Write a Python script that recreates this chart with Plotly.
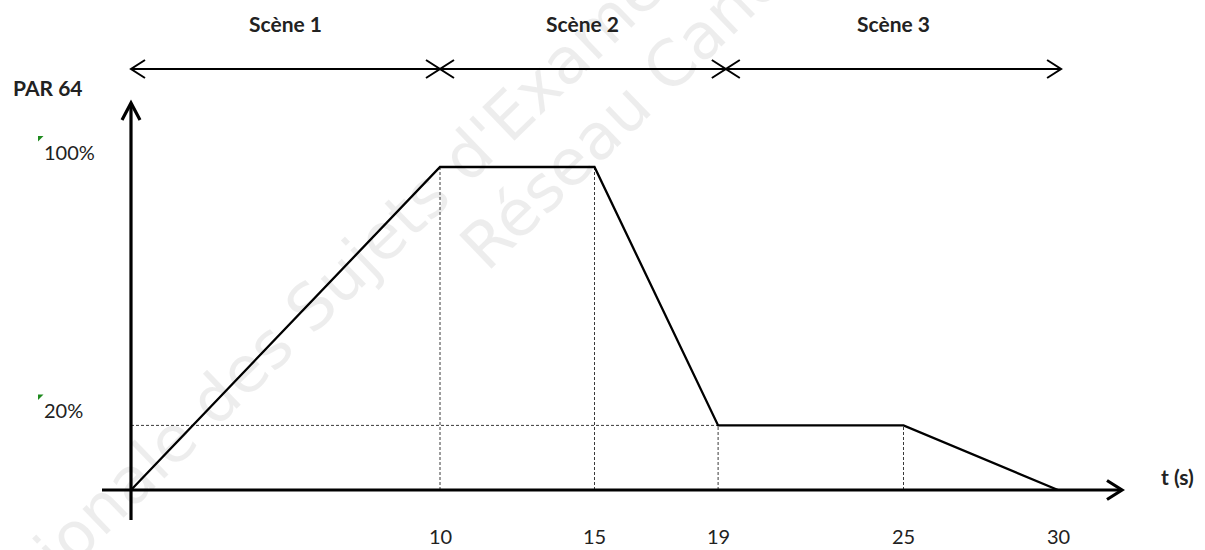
import plotly.graph_objects as go

# ---------------- data ----------------
t_points = [0, 10, 15, 19, 25, 30]
par_levels = [0, 100, 100, 20, 20, 0]
x_tick_values = [10, 15, 19, 25, 30]
x_tick_labels = ["10", "15", "19", "25", "30"]
y_label_values = [100, 20]
y_label_texts = ["100%", "20%"]
scene_names = ["Scène 1", "Scène 2", "Scène 3"]
scene_bounds = [0, 10, 19.25, 30.1]
y_title = "PAR 64"
x_title = "t (s)"

# ---------------- geometry ----------------
W, H = 1205, 550
X0_PX, SX = 131.0, 30.9      # pixel of t=0, pixels per second
Y0_PX, SY = 490.0, 3.23      # pixel of 0 %, pixels per percent
X_MIN = -X0_PX / SX
X_MAX = (W - X0_PX) / SX
Y_MAX = Y0_PX / SY
Y_MIN = -(H - Y0_PX) / SY


def dx(px):
    return (px - X0_PX) / SX


def dy(py):
    return (Y0_PX - py) / SY


def px_of(x):
    return X0_PX + x * SX


def py_of(y):
    return Y0_PX - y * SY


X_AXIS_START, X_AXIS_END = dx(102), dx(1122)
Y_AXIS_START, Y_AXIS_END = dy(520), dy(103)
SCENE_LEVEL = dy(69)

TEXT = "#222222"
BLACK = "#000000"


def chevron(tx, ty, direction, length, half, width):
    """open arrow head with its tip at data point (tx, ty)"""
    px, py = px_of(tx), py_of(ty)
    if direction == "right":
        a, b = (px - length, py - half), (px - length, py + half)
    elif direction == "left":
        a, b = (px + length, py - half), (px + length, py + half)
    else:  # up
        a, b = (px - half, py + length), (px + half, py + length)
    path = (f"M {dx(a[0])},{dy(a[1])} L {tx},{ty} L {dx(b[0])},{dy(b[1])}")
    return dict(type="path", xref="x", yref="y", path=path,
                line=dict(color=BLACK, width=width), layer="above")


fig = go.Figure()

# dotted guide lines
gx, gy = [], []
for t, v in zip(t_points[1:-1], par_levels[1:-1]):
    gx += [t, t, None]
    gy += [0, v, None]
h_level = y_label_values[1]
h_end = t_points[par_levels.index(h_level)]
gx += [0, h_end, None]
gy += [h_level, h_level, None]
fig.add_trace(go.Scatter(x=gx, y=gy, mode="lines",
                         line=dict(color="#3a3a3a", width=1, dash="3px,2px"),
                         hoverinfo="skip"))

# main PAR 64 curve
fig.add_trace(go.Scatter(x=t_points, y=par_levels, mode="lines",
                         line=dict(color=BLACK, width=2.3),
                         hoverinfo="skip"))

shapes = []
# axes
shapes.append(dict(type="line", xref="x", yref="y", x0=X_AXIS_START, x1=X_AXIS_END,
                   y0=0, y1=0, line=dict(color=BLACK, width=3.2), layer="above"))
shapes.append(dict(type="line", xref="x", yref="y", x0=0, x1=0,
                   y0=Y_AXIS_START, y1=Y_AXIS_END, line=dict(color=BLACK, width=3.2),
                   layer="above"))
shapes.append(chevron(X_AXIS_END, 0, "right", 15, 9.5, 3.2))
shapes.append(chevron(0, Y_AXIS_END, "up", 17, 9, 3.2))

# scene arrows
for i in range(len(scene_names)):
    a, b = scene_bounds[i], scene_bounds[i + 1]
    shapes.append(dict(type="line", xref="x", yref="y", x0=a, x1=b,
                       y0=SCENE_LEVEL, y1=SCENE_LEVEL,
                       line=dict(color=BLACK, width=2), layer="above"))
    shapes.append(chevron(a, SCENE_LEVEL, "left", 14, 9, 2))
    shapes.append(chevron(b, SCENE_LEVEL, "right", 14, 9, 2))

annotations = []
# faint watermark (drawn first, semi-transparent so black lines stay black)
WM = "rgba(0,0,0,0.07)"
annotations.append(dict(x=240 / W, y=1 - 375 / H, xref="paper", yref="paper",
                        text="Banque Nationale des Sujets d'Examens", showarrow=False,
                        textangle=-44, xanchor="center", yanchor="middle",
                        font=dict(family="DejaVu Sans", size=64, color=WM)))
annotations.append(dict(x=650 / W, y=1 - 85 / H, xref="paper", yref="paper",
                        text="Réseau Canopé", showarrow=False,
                        textangle=-44, xanchor="center", yanchor="middle",
                        font=dict(family="DejaVu Sans", size=64, color=WM)))

# scene labels
for i, name in enumerate(scene_names):
    annotations.append(dict(x=(scene_bounds[i] + scene_bounds[i + 1]) / 2, y=dy(23),
                            xref="x", yref="y", text=f"<b>{name}</b>", showarrow=False,
                            font=dict(family="Lato", size=21, color=TEXT),
                            xanchor="center", yanchor="middle"))

# x tick labels
for v, lab in zip(x_tick_values, x_tick_labels):
    annotations.append(dict(x=v, y=dy(536), xref="x", yref="y", text=lab,
                            showarrow=False,
                            font=dict(family="Lato", size=20, color=TEXT),
                            xanchor="center", yanchor="middle"))

# y labels (with small green corner marks)
for v, lab in zip(y_label_values, y_label_texts):
    annotations.append(dict(x=dx(42), y=v, xref="x", yref="y", text=lab,
                            showarrow=False, yshift=15.5,
                            font=dict(family="Lato", size=20, color=TEXT),
                            xanchor="left", yanchor="middle"))
    top = py_of(v) - 31
    shapes.append(dict(type="path", xref="x", yref="y",
                       path=(f"M {dx(38)},{dy(top)} L {dx(43.5)},{dy(top)} "
                             f"L {dx(38)},{dy(top + 5.5)} Z"),
                       fillcolor="#1e8a1e", line=dict(width=0), layer="above"))

# axis titles
annotations.append(dict(x=dx(11), y=dy(87), xref="x", yref="y",
                        text=f"<b>{y_title}</b>", showarrow=False,
                        font=dict(family="Lato", size=21, color=TEXT),
                        xanchor="left", yanchor="middle"))
annotations.append(dict(x=dx(1177), y=dy(476), xref="x", yref="y",
                        text=f"<b>{x_title}</b>", showarrow=False,
                        font=dict(family="Lato", size=21, color=TEXT),
                        xanchor="center", yanchor="middle"))

fig.update_layout(
    width=W, height=H,
    margin=dict(l=0, r=0, t=0, b=0, pad=0),
    paper_bgcolor="white", plot_bgcolor="white",
    showlegend=False,
    xaxis=dict(range=[X_MIN, X_MAX], visible=False, fixedrange=True),
    yaxis=dict(range=[Y_MIN, Y_MAX], visible=False, fixedrange=True),
    shapes=shapes,
    annotations=annotations,
)

fig.write_html("out.html", config={"displayModeBar": False},
               post_script="document.body.style.margin='0px';")
